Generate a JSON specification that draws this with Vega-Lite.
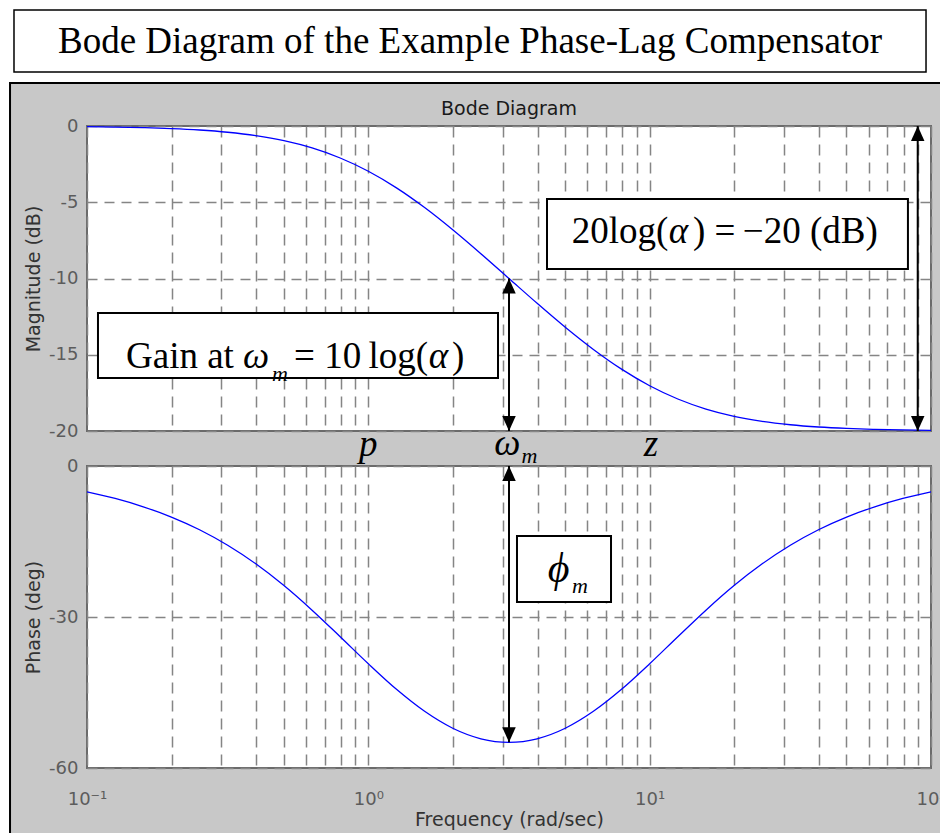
{
  "$schema": "https://vega.github.io/schema/vega-lite/v6.json",
  "background": "white",
  "padding": {"left": 9, "top": 9, "right": 0, "bottom": 0},
  "datasets": {
    "bode": [
      {"w": 0.1, "mag": -0.043, "phase": -5.14},
      {"w": 0.1259, "mag": -0.068, "phase": -6.45},
      {"w": 0.1585, "mag": -0.107, "phase": -8.10},
      {"w": 0.1995, "mag": -0.168, "phase": -10.14},
      {"w": 0.2512, "mag": -0.263, "phase": -12.66},
      {"w": 0.3162, "mag": -0.410, "phase": -15.74},
      {"w": 0.3981, "mag": -0.632, "phase": -19.43},
      {"w": 0.5012, "mag": -0.962, "phase": -23.75},
      {"w": 0.6310, "mag": -1.438, "phase": -28.64},
      {"w": 0.7943, "mag": -2.097, "phase": -33.92},
      {"w": 1.0, "mag": -2.967, "phase": -39.29},
      {"w": 1.259, "mag": -4.056, "phase": -44.37},
      {"w": 1.585, "mag": -5.348, "phase": -48.74},
      {"w": 1.995, "mag": -6.804, "phase": -52.10},
      {"w": 2.512, "mag": -8.373, "phase": -54.19},
      {"w": 3.162, "mag": -10.0, "phase": -54.90},
      {"w": 3.981, "mag": -11.627, "phase": -54.19},
      {"w": 5.012, "mag": -13.196, "phase": -52.10},
      {"w": 6.310, "mag": -14.652, "phase": -48.74},
      {"w": 7.943, "mag": -15.944, "phase": -44.37},
      {"w": 10.0, "mag": -17.033, "phase": -39.29},
      {"w": 12.59, "mag": -17.903, "phase": -33.92},
      {"w": 15.85, "mag": -18.562, "phase": -28.64},
      {"w": 19.95, "mag": -19.038, "phase": -23.75},
      {"w": 25.12, "mag": -19.368, "phase": -19.43},
      {"w": 31.62, "mag": -19.590, "phase": -15.74},
      {"w": 39.81, "mag": -19.737, "phase": -12.66},
      {"w": 50.12, "mag": -19.832, "phase": -10.14},
      {"w": 63.10, "mag": -19.893, "phase": -8.10},
      {"w": 79.43, "mag": -19.932, "phase": -6.45},
      {"w": 100.0, "mag": -19.957, "phase": -5.14}
    ],
    "panel": [{"x1": -0.0912, "x2": 1.0166, "y1": 0.0988, "y2": -9.25}],
    "tbox": [{"x1": -0.0865, "x2": 0.9941, "y1": 1, "y2": 0.2346}],
    "ttext": [{"x": 0.4538, "y": 0.4691, "t": "Bode Diagram of the Example Phase-Lag Compensator"}],
    "magBox": [
      {"f1": 4.316, "f2": 82.8, "v1": -4.787, "v2": -9.377},
      {"f1": 0.1094, "f2": 2.89, "v1": -12.262, "v2": -16.525}
    ],
    "magRule": [{"f": 3.1623, "v1": -10, "v2": -20}, {"f": 89.7, "v1": 0, "v2": -20}],
    "magUp": [{"f": 3.1623, "v": -10}, {"f": 89.7, "v": 0}],
    "magDown": [{"f": 3.1623, "v": -20}, {"f": 89.7, "v": -20}],
    "magNormal": [
      {"f": 5.284, "v": -7.672, "t": "20log("},
      {"f": 14.26, "v": -7.672, "t": ") =\u2009−20 (dB)"},
      {"f": 0.1376, "v": -15.869, "t": "Gain at"},
      {"f": 0.5443, "v": -15.869, "t": "= 10\u2009log("},
      {"f": 1.984, "v": -15.869, "t": ")"}
    ],
    "magItalic": [
      {"f": 11.7, "v": -7.672, "t": "α"},
      {"f": 0.3584, "v": -15.869, "t": "ω"},
      {"f": 1.64, "v": -15.869, "t": "α"},
      {"f": 2.80, "v": -21.57, "t": "ω"}
    ],
    "magSub": [{"f": 0.4546, "v": -16.72, "t": "m"}, {"f": 3.50, "v": -22.1, "t": "m"}],
    "magMark": [{"f": 1.0, "v": -21.64, "t": "p"}, {"f": 10.1, "v": -21.64, "t": "z"}],
    "phBox": [{"f1": 3.376, "f2": 7.288, "v1": -13.907, "v2": -27.02}],
    "phRule": [{"f": 3.1623, "v1": 0, "v2": -54.9}],
    "phUp": [{"f": 3.1623, "v": 0}],
    "phDown": [{"f": 3.1623, "v": -54.9}],
    "phPhi": [{"f": 4.34, "v": -23.05, "t": "ϕ"}],
    "phSub": [{"f": 5.30, "v": -25.23, "t": "m"}]
  },
  "spacing": 35,
  "bounds": "flush",
  "vconcat": [
    {
      "width": 844,
      "height": 81,
      "view": {"stroke": null, "fill": null},
      "layer": [
        {
          "data": {"name": "panel"},
          "mark": {"type": "rect", "fill": "#c8c8c8", "stroke": "#000000", "strokeWidth": 2},
          "encoding": {
            "x": {"field": "x1", "type": "quantitative", "scale": {"domain": [0, 1], "nice": false, "zero": false}, "axis": null},
            "x2": {"field": "x2"},
            "y": {"field": "y1", "type": "quantitative", "scale": {"domain": [0, 1], "nice": false, "zero": false}, "axis": null},
            "y2": {"field": "y2"}
          }
        },
        {
          "data": {"name": "tbox"},
          "mark": {"type": "rect", "fill": "white", "stroke": "#000000", "strokeWidth": 1.5},
          "encoding": {
            "x": {"field": "x1", "type": "quantitative", "axis": null},
            "x2": {"field": "x2"},
            "y": {"field": "y1", "type": "quantitative", "axis": null},
            "y2": {"field": "y2"}
          }
        },
        {
          "data": {"name": "ttext"},
          "mark": {"type": "text", "font": "Liberation Serif", "fontSize": 37, "align": "center", "baseline": "alphabetic", "color": "#000000"},
          "encoding": {
            "x": {"field": "x", "type": "quantitative", "axis": null},
            "y": {"field": "y", "type": "quantitative", "axis": null},
            "text": {"field": "t"}
          }
        }
      ]
    },
    {
      "width": 844,
      "height": 305,
      "title": {"text": "Bode Diagram", "font": "DejaVu Sans", "fontSize": 19, "fontWeight": "normal", "color": "#1a1a1a", "offset": -17, "baseline": "alphabetic", "anchor": "middle", "frame": "group"},
      "layer": [
        {
          "data": {"name": "bode"},
          "mark": {"type": "line", "color": "#0000ff", "strokeWidth": 1.3, "interpolate": "monotone"},
          "encoding": {
            "x": {"field": "w", "type": "quantitative", "scale": {"type": "log", "domain": [0.1, 100], "nice": false},
                  "axis": {"values": [0.1,0.2,0.3,0.4,0.5,0.6,0.7,0.8,0.9,1,2,3,4,5,6,7,8,9,10,20,30,40,50,60,70,80,90,100], "labels": false, "title": null, "grid": true}},
            "y": {"field": "mag", "type": "quantitative", "scale": {"domain": [-20, 0], "nice": false, "zero": false},
                  "axis": {"values": [0, -5, -10, -15, -20], "title": "Magnitude (dB)", "labelExpr": "'' + datum.value", "grid": true}}
          }
        },
        {
          "data": {"name": "magRule"},
          "mark": {"type": "rule", "color": "#000000", "strokeWidth": 2},
          "encoding": {
            "x": {"field": "f", "type": "quantitative"},
            "y": {"field": "v1", "type": "quantitative"},
            "y2": {"field": "v2"}
          }
        },
        {
          "data": {"name": "magUp"},
          "mark": {"type": "point", "shape": "M0,0L-0.9,2L0.9,2Z", "filled": true, "color": "#000000", "opacity": 1, "size": 225, "strokeWidth": 0},
          "encoding": {
            "x": {"field": "f", "type": "quantitative"},
            "y": {"field": "v", "type": "quantitative"}
          }
        },
        {
          "data": {"name": "magDown"},
          "mark": {"type": "point", "shape": "M0,0L-0.9,-2L0.9,-2Z", "filled": true, "color": "#000000", "opacity": 1, "size": 225, "strokeWidth": 0},
          "encoding": {
            "x": {"field": "f", "type": "quantitative"},
            "y": {"field": "v", "type": "quantitative"}
          }
        },
        {
          "data": {"name": "magBox"},
          "mark": {"type": "rect", "fill": "white", "stroke": "#000000", "strokeWidth": 2},
          "encoding": {
            "x": {"field": "f1", "type": "quantitative"},
            "x2": {"field": "f2"},
            "y": {"field": "v1", "type": "quantitative"},
            "y2": {"field": "v2"}
          }
        },
        {
          "data": {"name": "magNormal"},
          "mark": {"type": "text", "font": "Liberation Serif", "fontSize": 37, "align": "left", "baseline": "alphabetic", "color": "#000000"},
          "encoding": {
            "x": {"field": "f", "type": "quantitative"},
            "y": {"field": "v", "type": "quantitative"},
            "text": {"field": "t"}
          }
        },
        {
          "data": {"name": "magItalic"},
          "mark": {"type": "text", "font": "Liberation Serif", "fontSize": 37, "fontStyle": "italic", "align": "left", "baseline": "alphabetic", "color": "#000000"},
          "encoding": {
            "x": {"field": "f", "type": "quantitative"},
            "y": {"field": "v", "type": "quantitative"},
            "text": {"field": "t"}
          }
        },
        {
          "data": {"name": "magSub"},
          "mark": {"type": "text", "font": "Liberation Serif", "fontSize": 22, "fontStyle": "italic", "align": "left", "baseline": "alphabetic", "color": "#000000"},
          "encoding": {
            "x": {"field": "f", "type": "quantitative"},
            "y": {"field": "v", "type": "quantitative"},
            "text": {"field": "t"}
          }
        },
        {
          "data": {"name": "magMark"},
          "mark": {"type": "text", "font": "Liberation Serif", "fontSize": 37, "fontStyle": "italic", "align": "center", "baseline": "alphabetic", "color": "#000000"},
          "encoding": {
            "x": {"field": "f", "type": "quantitative"},
            "y": {"field": "v", "type": "quantitative"},
            "text": {"field": "t"}
          }
        }
      ]
    },
    {
      "width": 844,
      "height": 302,
      "layer": [
        {
          "data": {"name": "bode"},
          "mark": {"type": "line", "color": "#0000ff", "strokeWidth": 1.3, "interpolate": "monotone"},
          "encoding": {
            "x": {"field": "w", "type": "quantitative", "scale": {"type": "log", "domain": [0.1, 100], "nice": false},
                  "axis": {"values": [0.1,0.2,0.3,0.4,0.5,0.6,0.7,0.8,0.9,1,2,3,4,5,6,7,8,9,10,20,30,40,50,60,70,80,90,100], "title": "Frequency (rad/sec)", "grid": true,
                           "labelExpr": "datum.value == 0.1 ? '10⁻¹' : datum.value == 1 ? '10⁰' : datum.value == 10 ? '10¹' : datum.value == 100 ? '10²' : ''"}},
            "y": {"field": "phase", "type": "quantitative", "scale": {"domain": [-60, 0], "nice": false, "zero": false},
                  "axis": {"values": [0, -30, -60], "title": "Phase (deg)", "labelExpr": "'' + datum.value", "grid": true}}
          }
        },
        {
          "data": {"name": "phRule"},
          "mark": {"type": "rule", "color": "#000000", "strokeWidth": 2},
          "encoding": {
            "x": {"field": "f", "type": "quantitative"},
            "y": {"field": "v1", "type": "quantitative"},
            "y2": {"field": "v2"}
          }
        },
        {
          "data": {"name": "phUp"},
          "mark": {"type": "point", "shape": "M0,0L-0.9,2L0.9,2Z", "filled": true, "color": "#000000", "opacity": 1, "size": 225, "strokeWidth": 0},
          "encoding": {
            "x": {"field": "f", "type": "quantitative"},
            "y": {"field": "v", "type": "quantitative"}
          }
        },
        {
          "data": {"name": "phDown"},
          "mark": {"type": "point", "shape": "M0,0L-0.9,-2L0.9,-2Z", "filled": true, "color": "#000000", "opacity": 1, "size": 225, "strokeWidth": 0},
          "encoding": {
            "x": {"field": "f", "type": "quantitative"},
            "y": {"field": "v", "type": "quantitative"}
          }
        },
        {
          "data": {"name": "phBox"},
          "mark": {"type": "rect", "fill": "white", "stroke": "#000000", "strokeWidth": 2},
          "encoding": {
            "x": {"field": "f1", "type": "quantitative"},
            "x2": {"field": "f2"},
            "y": {"field": "v1", "type": "quantitative"},
            "y2": {"field": "v2"}
          }
        },
        {
          "data": {"name": "phPhi"},
          "mark": {"type": "text", "font": "Liberation Serif", "fontSize": 42, "fontStyle": "italic", "align": "left", "baseline": "alphabetic", "color": "#000000"},
          "encoding": {
            "x": {"field": "f", "type": "quantitative"},
            "y": {"field": "v", "type": "quantitative"},
            "text": {"field": "t"}
          }
        },
        {
          "data": {"name": "phSub"},
          "mark": {"type": "text", "font": "Liberation Serif", "fontSize": 22, "fontStyle": "italic", "align": "left", "baseline": "alphabetic", "color": "#000000"},
          "encoding": {
            "x": {"field": "f", "type": "quantitative"},
            "y": {"field": "v", "type": "quantitative"},
            "text": {"field": "t"}
          }
        }
      ]
    }
  ],
  "config": {
    "view": {"stroke": "#6b6b6b", "strokeWidth": 2, "fill": "white"},
    "axis": {
      "domain": false, "ticks": false, "tickSize": 0,
      "gridColor": "#858585", "gridWidth": 1.5, "gridDash": [10, 7], "gridOpacity": 1,
      "labelFont": "DejaVu Sans", "labelFontSize": 18, "labelColor": "#5c5c5c",
      "titleFont": "DejaVu Sans", "titleFontSize": 19, "titleFontWeight": "normal", "titleColor": "#333333",
      "labelOverlap": false, "labelFlush": false
    },
    "axisX": {"gridDash": [11, 7], "labelPadding": 22, "titlePadding": 2},
    "axisY": {"labelPadding": 9, "titlePadding": 5}
  }
}
